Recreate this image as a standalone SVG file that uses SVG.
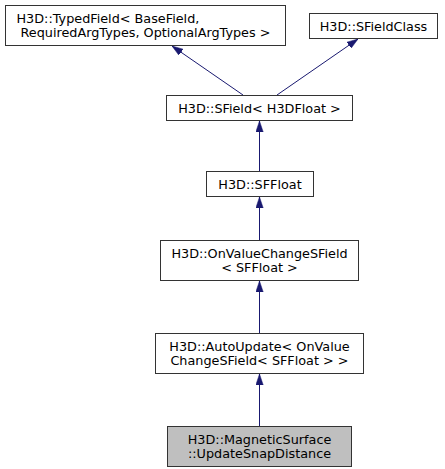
<svg xmlns="http://www.w3.org/2000/svg" width="445" height="469" viewBox="0 0 445 469">
<style>
.n rect{fill:#fff;stroke:#333;stroke-width:1}
.n.cur rect{fill:#bfbfbf}
.n text{font-family:"DejaVu Sans",sans-serif;font-size:12.8px;fill:#000;text-anchor:middle}
.n text.l{text-anchor:start}
.e{stroke:#191970;stroke-width:1;fill:none;marker-end:url(#ah)}
</style>
<defs>
<marker id="ah" markerWidth="11" markerHeight="8" refX="11" refY="4" orient="auto" markerUnits="userSpaceOnUse">
<path d="M0,0.3 L11,4 L0,7.7 Z" fill="#191970" stroke="#191970" stroke-width="0.5"/>
</marker>
</defs>
<g id="edges">
<path class="e" d="M243,95 L172,46"/>
<path class="e" d="M277,95 L358,39"/>
<path class="e" d="M259.5,171 L259.5,121"/>
<path class="e" d="M259.5,240 L259.5,197"/>
<path class="e" d="M259.5,333 L259.5,281"/>
<path class="e" d="M259.5,426 L259.5,374"/>
</g>
<g id="typedfield" class="n">
<rect x="5.5" y="5.5" width="280" height="40"/>
<text class="l" x="16.5" y="22.5">H3D::TypedField&lt; BaseField,</text>
<text class="l" x="20.5" y="36.5">RequiredArgTypes, OptionalArgTypes &gt;</text>
</g>
<g id="sfieldclass" class="n">
<rect x="309.5" y="13.5" width="128" height="25"/>
<text x="373.5" y="30.5">H3D::SFieldClass</text>
</g>
<g id="sfield" class="n">
<rect x="166.5" y="95.5" width="186" height="25"/>
<text x="259.5" y="112.5">H3D::SField&lt; H3DFloat &gt;</text>
</g>
<g id="sffloat" class="n">
<rect x="206.5" y="171.5" width="107" height="25"/>
<text x="260" y="188.5">H3D::SFFloat</text>
</g>
<g id="onvaluechange" class="n">
<rect x="160.5" y="240.5" width="198" height="40"/>
<text x="259.5" y="257.5">H3D::OnValueChangeSField</text>
<text x="259.5" y="271.5">&lt; SFFloat &gt;</text>
</g>
<g id="autoupdate" class="n">
<rect x="155.5" y="333.5" width="208" height="40"/>
<text x="259.5" y="350.5">H3D::AutoUpdate&lt; OnValue</text>
<text x="259.5" y="364.5">ChangeSField&lt; SFFloat &gt; &gt;</text>
</g>
<g id="updatesnapdistance" class="n cur">
<rect x="167.5" y="426.5" width="184" height="40"/>
<text x="259.5" y="443.5">H3D::MagneticSurface</text>
<text x="259.5" y="457.5">::UpdateSnapDistance</text>
</g>
</svg>
